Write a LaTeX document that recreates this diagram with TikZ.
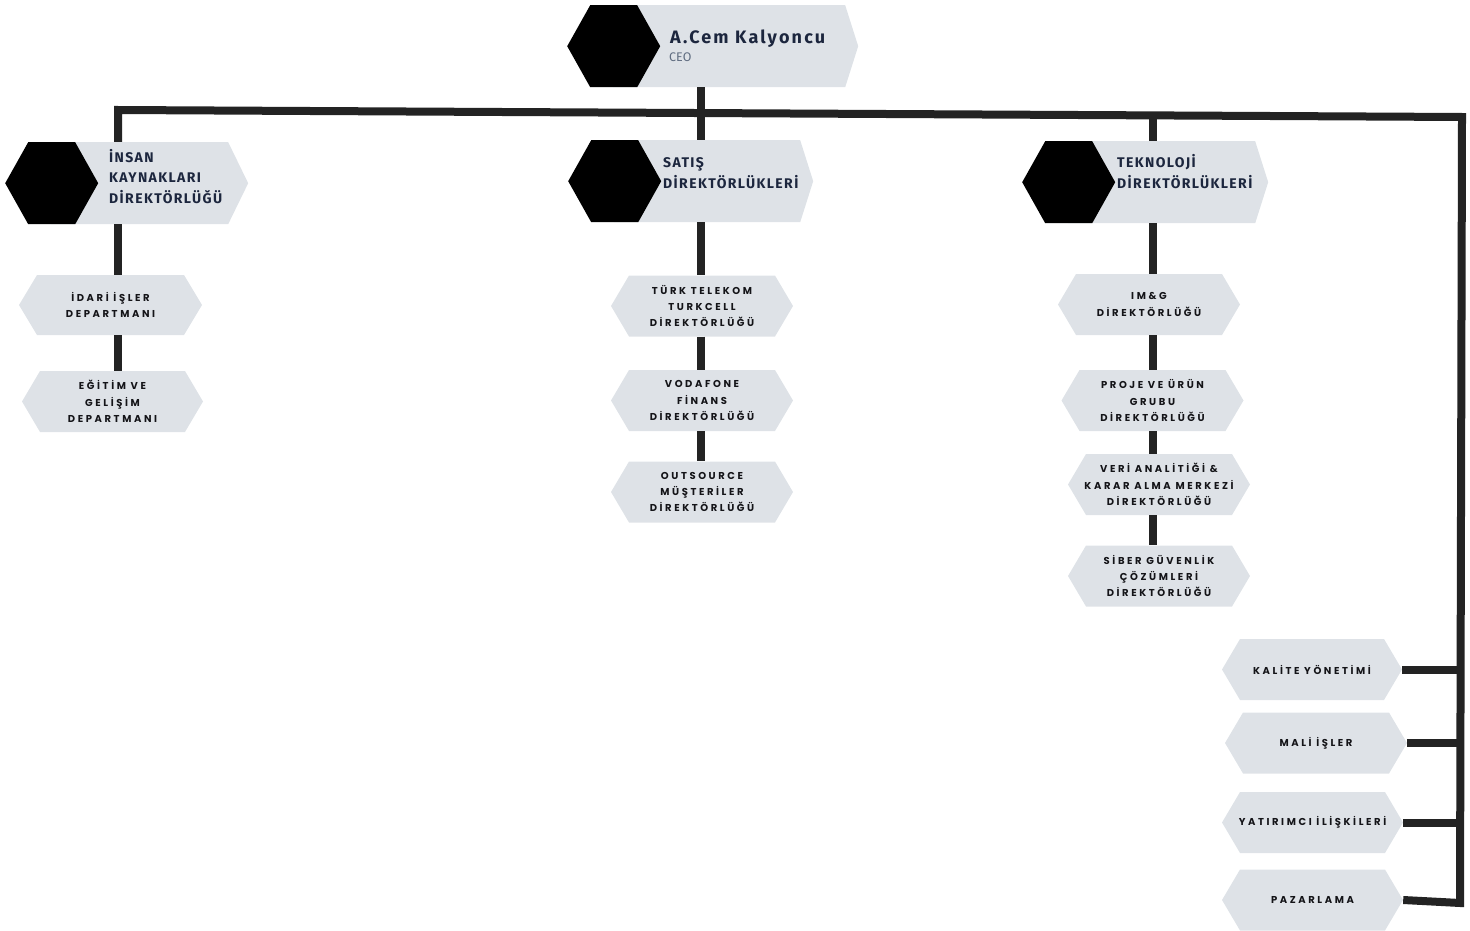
\documentclass[tikz,border=0pt]{standalone}
\usepackage{fontspec}
\setmainfont{Fira Sans}
\newfontfamily\hdrfont{Fira Sans}[LetterSpace=10]
\newfontfamily\namefont{Fira Sans}[LetterSpace=12]
\newfontfamily\subfont{Poppins}[LetterSpace=26]
\definecolor{greyc}{RGB}{222,226,231}
\definecolor{navyc}{RGB}{28,38,62}
\definecolor{ceoc}{RGB}{95,108,128}
\definecolor{linec}{RGB}{35,35,35}
\definecolor{subtext}{RGB}{20,20,24}
\begin{document}
\begin{tikzpicture}[x=1pt,y=-1pt,
  conn/.style={draw=linec, line width=8pt, line join=miter},
  hdr/.style={rectangle, inner sep=0pt, minimum height=82pt, anchor=north west,
    path picture={
      \fill[greyc] ([xshift=46pt]path picture bounding box.north west) -- ([xshift=-#1pt]path picture bounding box.north east) -- (path picture bounding box.east) -- ([xshift=-#1pt]path picture bounding box.south east) -- ([xshift=46pt]path picture bounding box.south west) -- cycle;
      \fill[black] (path picture bounding box.west) -- ++(23,-41) -- ++(47,0) -- ++(23,41) -- ++(-23,41) -- ++(-47,0) -- cycle;
    }},
  hdrtext/.style={anchor=base west, align=left, inner sep=0pt, text=navyc, font=\hdrfont\bfseries\fontsize{14}{20.5}\selectfont},
  subbox/.style={rectangle, inner sep=0pt, minimum height=61pt, minimum width=182pt, align=center, text=subtext,
    font=\subfont\bfseries\fontsize{10}{16.3}\selectfont,
    path picture={
      \fill[greyc] (path picture bounding box.west) -- ([xshift=18pt]path picture bounding box.north west) -- ([xshift=-18pt]path picture bounding box.north east) -- (path picture bounding box.east) -- ([xshift=-18pt]path picture bounding box.south east) -- ([xshift=18pt]path picture bounding box.south west) -- cycle;
    }}
]
\useasboundingbox (0,0) rectangle (1470,931);

% header boxes
\node[hdr=13, minimum width=291pt] (ceo) at (567,5) {};
\node[hdr=20, minimum width=243pt] (hr) at (5,142) {};
\node[hdr=13, minimum width=245pt] (sat) at (568,140) {};
\node[hdr=13, minimum width=246pt] (tek) at (1022,141) {};

% header texts (base = last line baseline)
\node[anchor=base west, inner sep=0pt, text=navyc, font=\namefont\bfseries\fontsize{18}{20}\selectfont] (ceoN) at (670,43.5) {A.Cem Kalyoncu};
\node[anchor=base west, inner sep=0pt, text=ceoc, font=\fontsize{12.5}{13}\selectfont] (ceoT) at (669,61.5) {CEO};
\node[hdrtext] (hrT) at (109,203) {İNSAN\\KAYNAKLARI\\DİREKTÖRLÜĞÜ};
\node[hdrtext] (satT) at (663,188) {SATIŞ\\DİREKTÖRLÜKLERİ};
\node[hdrtext] (tekT) at (1117,188) {TEKNOLOJİ\\DİREKTÖRLÜKLERİ};

% sub boxes
\node[subbox, minimum width=183pt, minimum height=60pt] (h1) at (110.5,305) {İDARİ İŞLER\\DEPARTMANI};
\node[subbox, minimum width=181pt] (h2) at (112.5,401.5) {EĞİTİM VE\\GELİŞİM\\DEPARTMANI};
\node[subbox] (s1) at (702,306) {TÜRK TELEKOM\\TURKCELL\\DİREKTÖRLÜĞÜ};
\node[subbox] (s2) at (702,400.5) {VODAFONE\\FİNANS\\DİREKTÖRLÜĞÜ};
\node[subbox] (s3) at (702,492) {OUTSOURCE\\MÜŞTERİLER\\DİREKTÖRLÜĞÜ};
\node[subbox] (t1) at (1149,304.5) {IM\&G\\DİREKTÖRLÜĞÜ};
\node[subbox] (t2) at (1152.5,400.5) {PROJE VE ÜRÜN\\GRUBU\\DİREKTÖRLÜĞÜ};
\node[subbox] (t3) at (1159,484.5) {VERİ ANALİTİĞİ \&\\KARAR ALMA MERKEZİ\\DİREKTÖRLÜĞÜ};
\node[subbox] (t4) at (1159,576) {SİBER GÜVENLİK\\ÇÖZÜMLERİ\\DİREKTÖRLÜĞÜ};
\node[subbox, minimum width=180pt] (k1) at (1312,669.5) {KALİTE YÖNETİMİ};
\node[subbox] (k2) at (1316,743) {MALİ İŞLER};
\node[subbox, minimum width=181pt] (k3) at (1312.5,822.5) {YATIRIMCI İLİŞKİLERİ};
\node[subbox, minimum width=181pt] (k4) at (1312.5,900) {PAZARLAMA};

% bus coordinates
\coordinate (jhr) at (118,110);
\coordinate (jsat) at (701,113);
\coordinate (jtek) at (1153,116);
\coordinate (bR) at (1462,117);
\coordinate (bB) at (1460,903);

% connectors
\draw[conn] (hr.north -| jhr) -- (jhr) -- (bR) -- (bB) -- (k4.east);
\draw[conn] (ceo.south -| jsat) -- (sat.north -| jsat);
\draw[conn] (jtek) -- (tek.north -| jtek);
\draw[conn] (hr.south -| jhr) -- (h1.north -| jhr);
\draw[conn] (h1.south -| jhr) -- (h2.north -| jhr);
\draw[conn] (sat.south -| jsat) -- (s1.north -| jsat);
\draw[conn] (s1.south -| jsat) -- (s2.north -| jsat);
\draw[conn] (s2.south -| jsat) -- (s3.north -| jsat);
\draw[conn] (tek.south -| jtek) -- (t1.north -| jtek);
\draw[conn] (t1.south -| jtek) -- (t2.north -| jtek);
\draw[conn] (t2.south -| jtek) -- (t3.north -| jtek);
\draw[conn] (t3.south -| jtek) -- (t4.north -| jtek);
\draw[conn] (k1.east) -- (k1.east -| bB);
\draw[conn] (k2.east) -- (k2.east -| bB);
\draw[conn] (k3.east) -- (k3.east -| bB);
\end{tikzpicture}
\end{document}
